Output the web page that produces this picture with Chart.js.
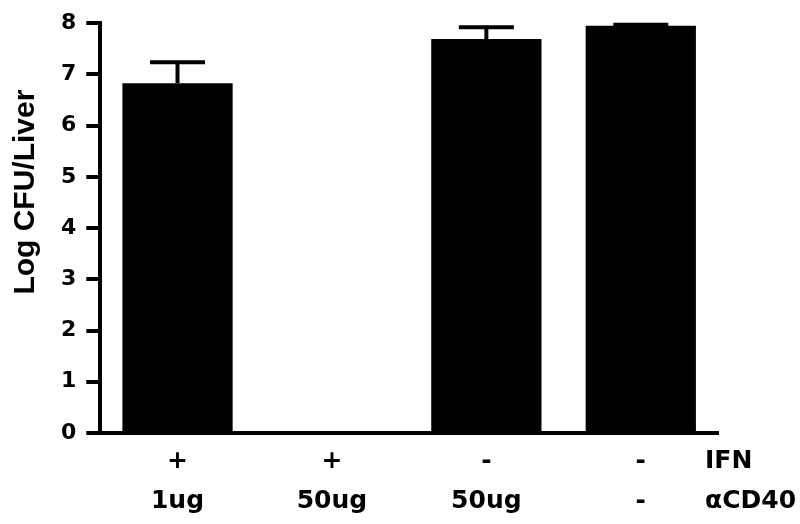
<!DOCTYPE html>
<html>
<head>
<meta charset="utf-8">
<script src="https://cdn.jsdelivr.net/npm/chart.js@4/dist/chart.umd.min.js"></script>
<style>
  html, body { margin: 0; padding: 0; background: #fff; }
  #wrap { width: 800px; height: 524px; }
</style>
</head>
<body>
<div id="wrap"><canvas id="myChart" width="800" height="524"></canvas></div>
<script>
// data
const ifnRow = ['+', '+', '-', '-']
const cd40Row = ['1ug', '50ug', '50ug', '-']
const rowNames = ['IFN', 'αCD40']
const logCfu = [6.83, null, 7.69, 7.95]
const errUp = [0.41, null, 0.23, 0.02]
const yTicks = [0, 1, 2, 3, 4, 5, 6, 7, 8]
const yTitle = 'Log CFU/Liver'

const tickFont = { family: 'DejaVu Sans', size: 25, weight: 'bold', lineHeight: 1.6 }

// upper error bars only
const errorBars = {
    id: 'errorBars',
    afterDatasetsDraw(chart) {
        const ctx = chart.ctx
        const meta = chart.getDatasetMeta(0)
        const y = chart.scales.y
        ctx.save()
        ctx.strokeStyle = '#000'
        ctx.lineWidth = 4
        meta.data.forEach((bar, i) => {
            if (logCfu[i] == null || errUp[i] == null) return
            const top = y.getPixelForValue(logCfu[i] + errUp[i])
            const base = y.getPixelForValue(logCfu[i])
            ctx.beginPath()
            ctx.moveTo(bar.x, base)
            ctx.lineTo(bar.x, top)
            ctx.moveTo(bar.x - 27.5, top)
            ctx.lineTo(bar.x + 27.5, top)
            ctx.stroke()
        })
        ctx.restore()
    }
}

// row names at right of the x labels, and y title
const extraText = {
    id: 'extraText',
    afterDraw(chart) {
        const ctx = chart.ctx
        const x = chart.scales.x
        const area = chart.chartArea
        const lh = tickFont.size * tickFont.lineHeight
        ctx.save()
        ctx.fillStyle = '#000'
        ctx.font = 'bold 25px "DejaVu Sans"'
        ctx.textAlign = 'left'
        ctx.textBaseline = 'middle'
        rowNames.forEach((t, i) => {
            ctx.fillText(t, area.right - 13, x.top + 8 + lh / 2 + i * lh)
        })
        ctx.translate(area.left - 75, (area.top + area.bottom) / 2 - 36)
        ctx.rotate(-Math.PI / 2)
        ctx.textAlign = 'center'
        ctx.font = 'bold 30px "Liberation Sans"'
        ctx.fillText(yTitle, 0, 0)
        ctx.restore()
    }
}

Chart.defaults.color = '#000'
Chart.defaults.font.family = 'DejaVu Sans'
Chart.defaults.font.weight = 'bold'

const chart = new Chart(document.getElementById('myChart'), {
    type: 'bar',
    data: {
        labels: ifnRow.map((v, i) => [v, cd40Row[i]]),
        datasets: [{
            label: yTitle,
            data: logCfu,
            backgroundColor: '#000',
            borderWidth: 0,
            barPercentage: 0.714,
            categoryPercentage: 1
        }]
    },
    options: {
        responsive: false,
        animation: false,
        layout: { padding: { left: 51, right: 82, top: 18, bottom: -5 } },
        plugins: {
            legend: { display: false },
            tooltip: { enabled: false }
        },
        scales: {
            x: {
                grid: { display: false, drawTicks: false },
                border: { display: true, color: '#000', width: 4 },
                ticks: {
                    font: tickFont,
                    padding: 8,
                    maxRotation: 0,
                    autoSkip: false
                }
            },
            y: {
                min: 0,
                max: 8,
                afterBuildTicks: (scale) => { scale.ticks = yTicks.map(v => ({ value: v })) },
                grid: {
                    display: true,
                    drawOnChartArea: false,
                    drawTicks: true,
                    tickLength: 14,
                    lineWidth: 4,
                    color: '#000'
                },
                border: { display: true, color: '#000', width: 4 },
                ticks: {
                    font: { family: 'DejaVu Sans', size: 22, weight: 'bold' },
                    padding: 10
                }
            }
        }
    },
    plugins: [errorBars, extraText]
})
</script>
</body>
</html>
